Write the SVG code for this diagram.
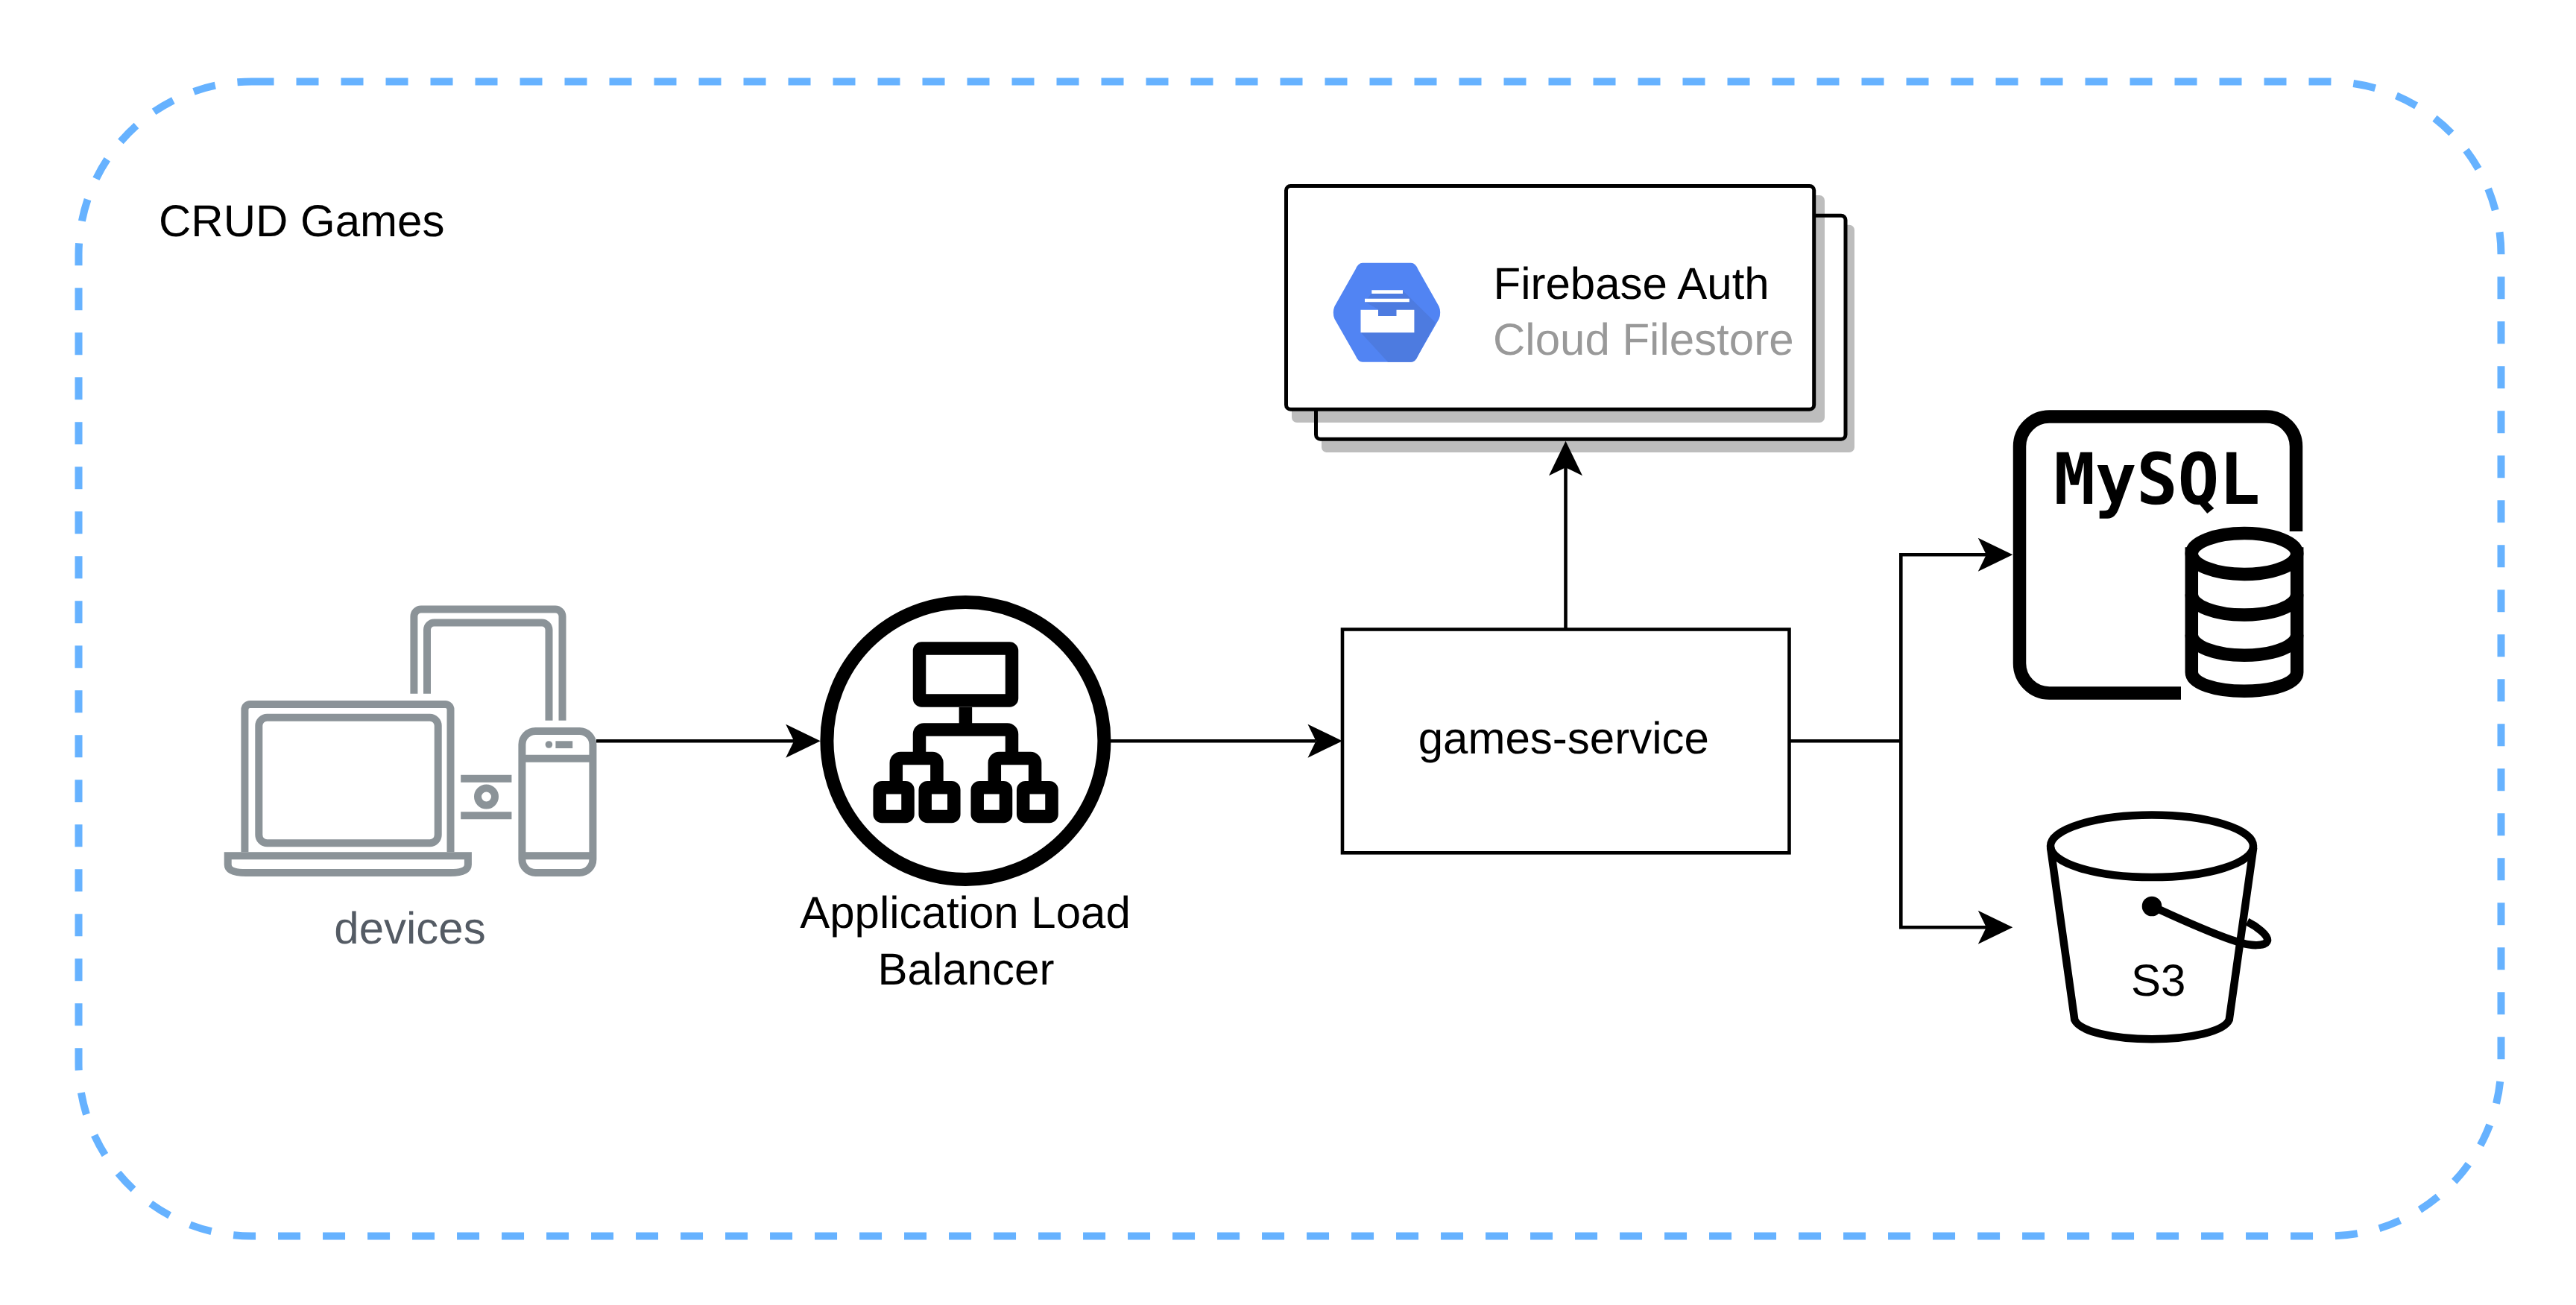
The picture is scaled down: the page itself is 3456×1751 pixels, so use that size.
<svg xmlns="http://www.w3.org/2000/svg" width="3456" height="1751" viewBox="0 0 3456 1751">
<style>
text{font-family:"Liberation Sans",Arial,sans-serif;font-size:60px;fill:#000;text-rendering:geometricPrecision}
.m{text-anchor:middle}
.d{fill:none;stroke:#8B9398;stroke-width:10}
.df{fill:#8B9398}
.k{fill:none;stroke:#000;stroke-width:17.5}
.w{fill:#fff;stroke:#000;stroke-width:17.5}
.c{fill:none;stroke:#000;stroke-width:4.6}
.a{fill:#000}
.card{fill:#fff;stroke:#000;stroke-width:5}
.sh{fill:#BDBDBD}
.s3{fill:none;stroke:#000;stroke-width:10.5}
</style>
<defs>
<path id="head" class="a" d="M0 0L-46.5-22.5L-35.5 0L-46.5 22.5Z"/>
</defs>
<rect width="3456" height="1751" fill="#fff"/>
<g id="container">
<rect x="105.500" y="109.500" width="3250" height="1549" rx="232" ry="232" fill="none" stroke="#66B2FF" stroke-width="10" stroke-dasharray="30 30"/>
<text x="213" y="317">CRUD Games</text>
</g>
<g id="devices">
<path class="d" d="M555.400 930.700V827a9.500 9.500 0 0 1 9.500-9.500H745a9.500 9.500 0 0 1 9.500 9.500V966.700"/>
<path class="d" d="M573 930.700V845a9.500 9.500 0 0 1 9.500-9.500H727a9.500 9.500 0 0 1 9.500 9.500V966.700"/>
<path class="d" d="M328.400 1143.300V952a7 7 0 0 1 7-7H597.500a7 7 0 0 1 7 7V1143.300"/>
<rect class="d" x="347.300" y="962.700" width="240.400" height="168.600" rx="11"/>
<path class="d" d="M305.700 1148.300H627.900V1160Q627.900 1171 604 1171H330Q305.700 1171 305.700 1160Z"/>
<path class="df" d="M618.200 1039.700H686.400V1049.700H618.200ZM618.200 1089.300H686.400V1099.300H618.200Z"/>
<circle class="d" cx="652.500" cy="1069" r="11.500"/>
<rect class="d" x="700.400" y="981" width="95" height="190" rx="18"/>
<path class="d" d="M700.400 1017.700H795.400M700.400 1148.300H795.400"/>
<circle class="df" cx="736.400" cy="999" r="4.800"/>
<rect class="df" x="745.400" y="994.300" width="22.800" height="9.700"/>
<text class="m" x="550" y="1265.700" style="fill:#545B64">devices</text>
</g>
<g id="alb">
<circle cx="1295.400" cy="994" r="186" fill="#fff" stroke="#000" stroke-width="18"/>
<path class="k" d="M1295.400 949V979M1233.500 1017.500V985a6 6 0 0 1 6-6H1351.500a6 6 0 0 1 6 6V1017.500M1202.300 1048V1023.500a6 6 0 0 1 6-6H1250.900a6 6 0 0 1 6 6V1048M1334.300 1048V1023.500a6 6 0 0 1 6-6H1382.600a6 6 0 0 1 6 6V1048"/>
<rect class="k" x="1233.500" y="870" width="124" height="70" rx="3"/>
<rect class="k" x="1180.200" y="1056.700" width="37.800" height="38.700" rx="3"/>
<rect class="k" x="1241.200" y="1056.700" width="38.600" height="38.700" rx="3"/>
<rect class="k" x="1311.200" y="1056.700" width="38.300" height="38.700" rx="3"/>
<rect class="k" x="1372.700" y="1056.700" width="38.300" height="38.700" rx="3"/>
<text class="m" x="1295" y="1245">Application Load</text>
<text class="m" x="1296" y="1321">Balancer</text>
</g>
<g id="firebase">
<rect class="sh" x="1773" y="301.700" width="715" height="305.300" rx="7"/>
<rect x="1765.500" y="289.300" width="710.500" height="300" rx="6" fill="#fff"/>
<rect class="sh" x="1733" y="262" width="715" height="305" rx="7"/>
<rect x="1765.500" y="289.300" width="710.500" height="300" rx="6" fill="none" stroke="#000" stroke-width="5"/>
<rect class="card" x="1725.500" y="249.500" width="708.200" height="299.700" rx="6"/>
<path fill="#5184F3" d="M1828 352.700H1893Q1899 352.700 1902.500 361.500L1930.500 411Q1934 419.300 1930.500 428L1902.500 477Q1899 485.700 1893 485.700H1828Q1822 485.700 1818.500 477L1790.500 428Q1787 419.300 1790.500 411L1818.500 361.500Q1822 352.700 1828 352.700Z"/>
<path fill="#4D7BE0" d="M1882 390L1926 433L1902.500 477Q1899 485.700 1893 485.700H1862L1825.500 446V430L1849 415L1831 405L1840 394Z"/>
<path fill="#fff" d="M1840.300 389.300H1882V394H1840.300ZM1831 400.700H1890.800V405.300H1831ZM1825.500 415.700H1849V424H1873.500V415.700H1897.400V446.300H1825.500Z"/>
<text x="2003.500" y="401">Firebase Auth</text>
<text x="2003" y="476" style="fill:#999">Cloud Filestore</text>
</g>
<g id="games-service">
<rect x="1801" y="844.500" width="599.500" height="299.800" fill="#fff" stroke="#000" stroke-width="4.600"/>
<text class="m" x="2097.800" y="1011">games-service</text>
</g>
<g id="mysql">
<path class="k" d="M3080.500 713V599a40 40 0 0 0-40-40H2749.500a40 40 0 0 0-40 40V890a40 40 0 0 0 40 40H2926"/>
<text x="2755.500" y="675.700" textLength="277" lengthAdjust="spacingAndGlyphs" style="font-family:'DejaVu Sans Mono',monospace;font-weight:700;font-size:95px">MySQL</text>
<path class="w" d="M2940.300 743V902C2940.300 917 2972 927.300 3011 927.300S3081.700 917 3081.700 902V743Z"/>
<path class="k" d="M2940.300 797.500C2940.300 813 2972 825 3011 825S3081.700 813 3081.700 797.500M2940.300 851.800C2940.300 867 2972 879.300 3011 879.300S3081.700 867 3081.700 851.800"/>
<ellipse class="w" cx="3011" cy="743" rx="70.700" ry="27.500"/>
</g>
<g id="s3">
<path class="s3" fill="#fff" d="M2751 1136.700L2783.300 1368.300C2790 1384 2835 1394.300 2887 1394.300S2984 1384 2990.700 1368.300L3023.300 1136.700"/>
<ellipse class="s3" cx="2887" cy="1135.300" rx="136" ry="41.800"/>
<circle class="a" cx="2887" cy="1216" r="13.300"/>
<path class="s3" d="M2887 1216C2930 1235 2965 1252 3000 1263C3020 1270 3040 1270 3042 1262C3043 1255 3028 1243 3015 1236.700"/>
<text class="m" x="2895.700" y="1336">S3</text>
</g>
<g id="connectors">
<path class="c" d="M800 994.200H1065"/><use href="#head" x="1100.700" y="994.200"/>
<path class="c" d="M1490 994.200H1765"/><use href="#head" x="1801" y="994.200"/>
<path class="c" d="M2100.500 844V625"/><use href="#head" transform="translate(2100.500 591.700) rotate(-90)"/>
<path class="c" d="M2400 994.200H2550.300V744.300H2665M2550.300 994.200V1244.300H2665"/>
<use href="#head" x="2700.300" y="744.300"/><use href="#head" x="2700.300" y="1244.300"/>
</g>
</svg>
